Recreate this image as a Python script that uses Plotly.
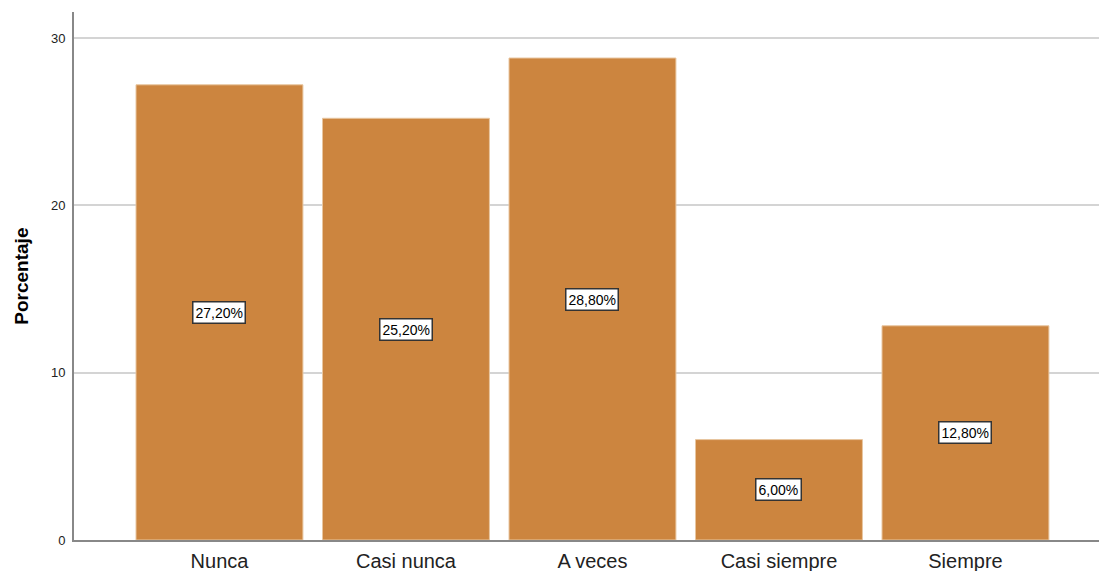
import plotly.graph_objects as go

categorias = ["Nunca", "Casi nunca", "A veces", "Casi siempre", "Siempre"]
porcentajes = [27.2, 25.2, 28.8, 6.0, 12.8]
etiquetas = ["27,20%", "25,20%", "28,80%", "6,00%", "12,80%"]
ticks_y = [0, 10, 20, 30]

fig = go.Figure()
fig.add_trace(go.Bar(
    x=list(range(len(categorias))),
    y=porcentajes,
    width=0.895,
    marker=dict(color="#CC853F", line=dict(color="#E8C6A0", width=1)),
    hoverinfo="skip",
))

# Value labels in boxes at half bar height
for i, (v, t) in enumerate(zip(porcentajes, etiquetas)):
    fig.add_annotation(
        x=i, y=v / 2, text=t, showarrow=False,
        font=dict(family="Liberation Sans, Arial", size=14, color="#000000"),
        bgcolor="#FFFFFF", bordercolor="#333333", borderwidth=1.5, borderpad=2,
    )

fig.add_annotation(
    text="<b>Porcentaje</b>", textangle=-90, showarrow=False,
    xref="paper", yref="paper", x=-0.052, y=0.5, xanchor="center", yanchor="middle",
    font=dict(family="Liberation Sans, Arial", size=19, color="#000000"),
)

fig.update_layout(
    width=1099, height=571,
    margin=dict(l=74, r=0, t=12, b=31),
    paper_bgcolor="#FFFFFF", plot_bgcolor="#FFFFFF",
    showlegend=False,
    font=dict(family="Liberation Sans, Arial", color="#222222"),
)
fig.update_xaxes(
    range=[-0.78, 4.716],
    tickmode="array", tickvals=list(range(len(categorias))), ticktext=categorias,
    tickfont=dict(size=20, color="#222222"),
    showgrid=False, showline=True, linecolor="#888888", linewidth=2,
    ticks="", zeroline=False, ticklabelstandoff=2,
)
fig.update_yaxes(
    range=[0, 31.55],
    tickmode="array", tickvals=ticks_y,
    tickfont=dict(size=13, color="#222222"),
    showgrid=True, gridcolor="#D4D4D4", gridwidth=2,
    showline=True, linecolor="#888888", linewidth=2,
    zeroline=False, ticks="", ticklabelstandoff=4,
)

fig.write_html("out.html")
